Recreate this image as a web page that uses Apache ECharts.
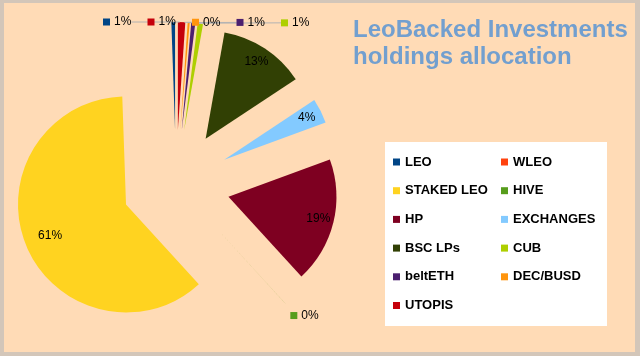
<!DOCTYPE html>
<html><head><meta charset="utf-8">
<script src="https://cdn.jsdelivr.net/npm/echarts@6/dist/echarts.min.js"></script>
<style>
html,body{margin:0;padding:0;background:#ffdbb6;}
#c{width:640px;height:356px;}
#frame{position:absolute;left:0;top:0;width:640px;height:356px;box-sizing:border-box;border:solid #d3c6b9;border-width:3px 5px 4px 4px;pointer-events:none;}
</style></head><body>
<div id="c"></div><div id="frame"></div>
<script>
// ---- data ----
const categories = ['LEO','WLEO','STAKED LEO','HIVE','HP','EXCHANGES','BSC LPs','CUB','beltETH','DEC/BUSD','UTOPIS'];
const holdings   = [0.55, 0, 61.23, 0.02, 18.8, 3.7, 12.9, 0.8, 0.6, 0.3, 1.1];
const legendCol1 = ['LEO','STAKED LEO','HP','BSC LPs','beltETH','UTOPIS'];
const legendCol2 = ['WLEO','HIVE','EXCHANGES','CUB','DEC/BUSD'];
const titleText  = 'LeoBacked Investments\nholdings allocation';
// label groups
const topRowLabels = ['LEO','UTOPIS','DEC/BUSD','beltETH','CUB'];
const ringLabels   = ['HP','EXCHANGES','BSC LPs'];
const deepLabels   = ['STAKED LEO'];
const sideLabels   = ['HIVE'];

// ---- style ----
const colors = ['#004586','#ff420e','#ffd320','#579d1c','#7e0021','#83caff','#314004','#aecf00','#4b1f6f','#ff950e','#c5000b'];
const FONT = 'Liberation Sans, Arial, sans-serif';
const CENTER = [176, 184], R = 108, EXPLODE = 54;
const ROW_LEFT = 103, ROW_GAP = 44.5;
const labelNudge = {'BSC LPs':[8,7], 'HP':[1,-4], 'EXCHANGES':[2,4], 'STAKED LEO':[0,-3]};

const total = holdings.reduce((a,b)=>a+b,0);
const pct = v => Math.round(v/total*100) + '%';

const rich = { t: {fontSize:12, fontFamily:FONT, color:'#000', padding:[0,0,0,4], verticalAlign:'middle'} };
colors.forEach((c,i)=>{ rich['s'+i] = {width:7, height:7, backgroundColor:c, verticalAlign:'middle'}; });
const keyFormatter = p => '{s'+p.dataIndex+'|}{t|'+pct(p.value)+'}';

function baseData(showList, extra) {
  return categories.map((n,i)=>Object.assign({
    name:n, value:holdings[i],
    itemStyle:{color:colors[i]},
    label:{show: showList.includes(n)}
  }, extra ? extra(n,i) : {}));
}

const common = {
  type:'pie', center:CENTER, startAngle:90, clockwise:false,
  selectedMode:'multiple', selectedOffset:EXPLODE, animation:false,
  avoidLabelOverlap:false, emphasis:{disabled:true},
  select:{itemStyle:{borderWidth:0}}
};
const clear = () => ({itemStyle:{color:'rgba(0,0,0,0)'}});

const overlay = (inner, list) => Object.assign({}, common, {
  radius:[inner, R], silent:true, z:3,
  data: baseData(list, n=>Object.assign(clear(), {selected:true,
    label:{show:list.includes(n), offset: labelNudge[n] || [0,0]}})),
  label:{position:'inside', color:'#000', fontSize:12, fontFamily:FONT, formatter:p=>pct(p.value)},
  labelLine:{show:false}
});

const chart = echarts.init(document.getElementById('c'), null, {renderer:'canvas'});
chart.setOption({
  backgroundColor:'#ffdbb6',
  color: colors,
  title:{ text:titleText, left:348, top:12,
    textStyle:{color:'#729fcf', fontSize:24, fontWeight:'bold', fontFamily:FONT, lineHeight:27} },
  graphic:[{type:'rect', left:385, top:142, z:0, shape:{width:222, height:184}, style:{fill:'#ffffff'}}],
  legend:[
    {orient:'vertical', left:393, top:154.5, padding:0, itemWidth:7, itemHeight:7, itemGap:13.7, icon:'rect',
     data:legendCol1, selectedMode:false, textStyle:{fontSize:13, fontWeight:'bold', fontFamily:FONT, color:'#000', lineHeight:15}},
    {orient:'vertical', left:501, top:154.5, padding:0, itemWidth:7, itemHeight:7, itemGap:13.7, icon:'rect',
     data:legendCol2, selectedMode:false, textStyle:{fontSize:13, fontWeight:'bold', fontFamily:FONT, color:'#000', lineHeight:15}}
  ],
  series:[
    // exploded slices, with the key-label of HIVE
    Object.assign({}, common, {
      name:'holdings', radius:R,
      data: baseData(sideLabels, ()=>({selected:true})),
      label:{position:'outside', formatter:keyFormatter, rich:rich, padding:[24,0,0,0]},
      labelLine:{show:false, length:0, length2:0}
    }),
    overlay(71, ringLabels),
    overlay(50, deepLabels),
    // key-labels of the thin top slices, spread in one row with leader lines
    Object.assign({}, common, {
      name:'topkeys', radius:R, center:[CENTER[0], CENTER[1]-EXPLODE], silent:true, z:3,
      data: baseData(topRowLabels, clear),
      label:{position:'outside', formatter:keyFormatter, rich:rich},
      labelLine:{show:true, length:0, length2:0, lineStyle:{color:'#b3b3b3', width:1}},
      labelLayout: function(p){
        const k = topRowLabels.indexOf(categories[p.dataIndex]);
        if (k >= 0) return {x: ROW_LEFT + k*ROW_GAP, y: p.rect.y, align:'left', verticalAlign:'middle'};
      }
    })
  ]
});
</script></body></html>
